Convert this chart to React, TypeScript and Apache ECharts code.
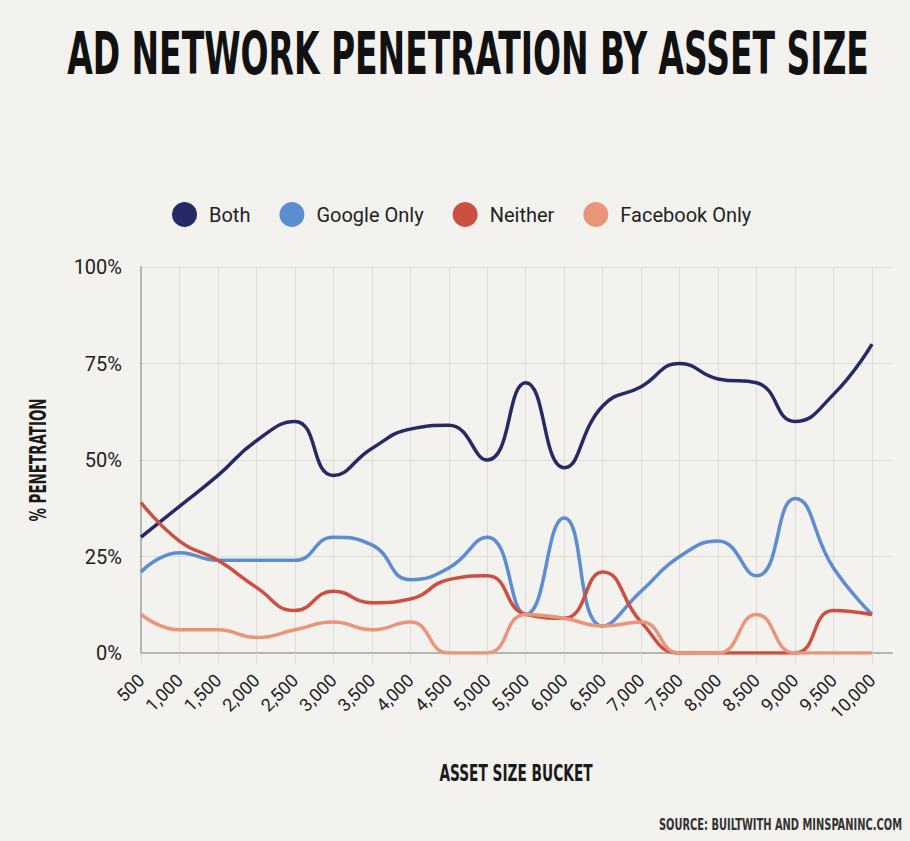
import React, { useEffect, useRef } from "react";
import * as echarts from "echarts";

const assetSizes = [500, 1000, 1500, 2000, 2500, 3000, 3500, 4000, 4500, 5000, 5500, 6000, 6500, 7000, 7500, 8000, 8500, 9000, 9500, 10000];
const both = [30, 38, 46, 55, 60, 46, 53, 58, 59, 50, 70, 48, 64, 69, 75, 71, 70, 60, 67, 80];
const googleOnly = [21, 26, 24, 24, 24, 30, 28, 19, 22, 30, 10, 35, 7, 16, 25, 29, 20, 40, 22, 10];
const neither = [39, 29, 24, 17, 11, 16, 13, 14, 19, 20, 10, 9, 21, 8, 0, 0, 0, 0, 11, 10];
const facebookOnly = [10, 6, 6, 4, 6, 8, 6, 8, 0, 0, 10, 9, 7, 8, 0, 0, 10, 0, 0, 0];
const yTicks = [0, 25, 50, 75, 100];

const seriesNames = ["Both", "Google Only", "Neither", "Facebook Only"];
const seriesColors = ["#252a66", "#5b8dd0", "#cc4f40", "#e8957a"];

const condensed = '"Liberation Sans Narrow", "DejaVu Sans Condensed", "Roboto Condensed", sans-serif';

export default function App() {
  const ref = useRef<HTMLDivElement>(null);
  useEffect(() => {
    if (!ref.current) return;
    const chart = echarts.init(ref.current, null, { renderer: "svg" });
    const labels = assetSizes.map((v) => v.toLocaleString("en-US"));
    const data = [both, googleOnly, neither, facebookOnly];
    const gridLine = "#dedcd8";
    const axisGray = "#b4b4b4";
    chart.setOption({
      animation: false,
      backgroundColor: "#f3f2ef",
      textStyle: { fontFamily: "Roboto, sans-serif" },
      legend: {
        left: 167,
        top: 197,
        icon: "circle",
        itemWidth: 25,
        itemHeight: 25,
        itemGap: 29,
        data: seriesNames,
        textStyle: { fontSize: 20, color: "#222", padding: [0, 0, 0, 7], fontFamily: "Roboto, sans-serif" },
      },
      grid: [
        { left: 141, right: 18, top: 267, bottom: 188, containLabel: false },
        { left: 141, right: 38, top: 267, bottom: 188, containLabel: false },
      ],
      xAxis: [
        {
          gridIndex: 0,
          type: "value",
          min: 0,
          max: 1,
          axisLine: { show: true, lineStyle: { color: axisGray, width: 2 } },
          axisTick: { show: false },
          axisLabel: { show: false },
          splitLine: { show: false },
        },
        {
          gridIndex: 1,
          type: "category",
          data: labels,
          boundaryGap: false,
          axisLine: { show: false },
          axisTick: { show: true, length: 11, interval: 0, lineStyle: { color: gridLine, width: 1 } },
          splitLine: { show: true, interval: 0, lineStyle: { color: gridLine, width: 1 } },
          axisLabel: { rotate: 45, interval: 0, fontSize: 18, color: "#222", margin: 24 },
        },
      ],
      yAxis: [
        {
          gridIndex: 0,
          type: "value",
          min: yTicks[0],
          max: yTicks[yTicks.length - 1],
          interval: 25,
          axisLine: { show: true, lineStyle: { color: axisGray, width: 2 } },
          axisTick: { show: false },
          axisLabel: { formatter: "{value}%", fontSize: 20, color: "#222", margin: 19 },
          splitLine: { show: true, lineStyle: { color: gridLine, width: 1 } },
        },
        {
          gridIndex: 1,
          type: "value",
          min: 0,
          max: 100,
          show: false,
        },
      ],
      series: data.map((d, i) => ({
        name: seriesNames[i],
        type: "line",
        xAxisIndex: 1,
        yAxisIndex: 1,
        data: d,
        smooth: 0.5,
        showSymbol: false,
        symbol: "circle",
        color: seriesColors[i],
        lineStyle: { color: seriesColors[i], width: 3.5 },
        z: 3,
      })),
      graphic: [
        {
          type: "text",
          x: 468,
          y: 54,
          scaleX: 0.632,
          style: {
            text: "AD NETWORK PENETRATION BY ASSET SIZE",
            fontFamily: condensed,
            fontWeight: "bold",
            fontSize: 58,
            fill: "#111",
            textAlign: "center",
            textVerticalAlign: "middle",
          },
        },
        {
          type: "text",
          x: 38,
          y: 460,
          rotation: Math.PI / 2,
          scaleX: 0.65,
          style: {
            text: "% PENETRATION",
            fontFamily: condensed,
            fontWeight: "bold",
            fontSize: 23,
            fill: "#1a1a1a",
            textAlign: "center",
            textVerticalAlign: "middle",
          },
        },
        {
          type: "text",
          x: 516,
          y: 773.5,
          scaleX: 0.663,
          style: {
            text: "ASSET SIZE BUCKET",
            fontFamily: condensed,
            fontWeight: "bold",
            fontSize: 23,
            fill: "#1a1a1a",
            textAlign: "center",
            textVerticalAlign: "middle",
          },
        },
        {
          type: "text",
          x: 902,
          y: 824,
          scaleX: 0.687,
          style: {
            text: "SOURCE: BUILTWITH AND MINSPANINC.COM",
            fontFamily: condensed,
            fontWeight: "bold",
            fontSize: 16,
            fill: "#333",
            textAlign: "right",
            textVerticalAlign: "middle",
          },
        },
      ],
    });
    return () => chart.dispose();
  }, []);
  return <div ref={ref} style={{ position: "fixed", left: 0, top: 0, width: 910, height: 841 }} />;
}
